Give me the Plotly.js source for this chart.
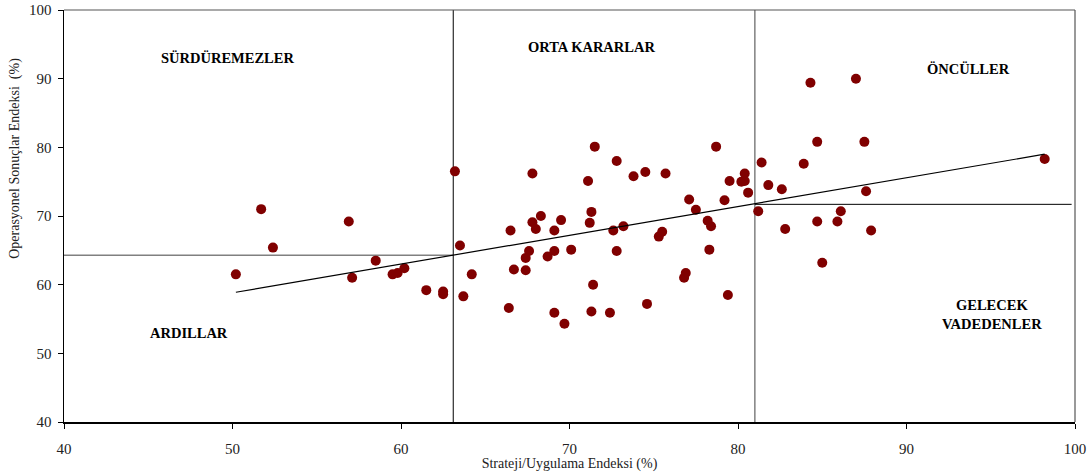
<!DOCTYPE html>
<html>
<head>
<meta charset="utf-8">
<script src="https://cdn.plot.ly/plotly-3.0.1.min.js"></script>
<style>html,body{margin:0;padding:0;background:#fff;}#chart{width:1091px;height:472px;}</style>
</head>
<body>
<div id="chart"></div>
<script>
// Scatter data: Strateji/Uygulama Endeksi (x) vs Operasyonel Sonuçlar Endeksi (y)
var stratejiX = [51.7, 56.9, 52.4, 50.2, 57.1, 58.5, 59.5, 59.8, 60.2, 61.5, 62.5, 62.5, 63.5, 64.2, 63.7,
  63.2, 66.4, 66.5, 66.7, 67.4, 67.4, 67.6, 67.8, 67.8, 68.0, 68.3, 68.7, 69.1, 69.1, 69.1,
  69.5, 69.7, 70.1, 71.1, 71.2, 71.3, 71.3, 71.4, 71.5, 72.4, 72.6, 72.8, 72.8, 73.2, 73.8,
  74.5, 74.6, 75.3, 75.5, 75.7, 76.8, 76.9, 77.1, 77.5, 78.2, 78.4, 78.3, 78.7, 79.4, 79.5,
  79.2, 80.2, 80.4, 80.4, 80.6, 81.2, 81.4, 81.8, 82.6, 82.8, 83.9, 84.3, 84.7, 84.7, 85.0,
  85.9, 86.1, 87.0, 87.5, 87.6, 87.9, 98.2];
var operasyonelY = [71.0, 69.2, 65.4, 61.5, 61.0, 63.5, 61.5, 61.7, 62.4, 59.2, 59.0, 58.6, 65.7, 61.5, 58.3,
  76.5, 56.6, 67.9, 62.2, 63.9, 62.1, 64.9, 76.2, 69.1, 68.1, 70.0, 64.1, 67.9, 64.9, 55.9,
  69.4, 54.3, 65.1, 75.1, 69.0, 70.6, 56.1, 60.0, 80.1, 55.9, 67.9, 78.0, 64.9, 68.5, 75.8,
  76.4, 57.2, 67.0, 67.7, 76.2, 61.0, 61.7, 72.4, 70.9, 69.3, 68.5, 65.1, 80.1, 58.5, 75.1,
  72.3, 75.0, 75.1, 76.2, 73.4, 70.7, 77.8, 74.5, 73.9, 68.1, 77.6, 89.4, 69.2, 80.8, 63.2,
  69.2, 70.7, 90.0, 80.8, 73.6, 67.9, 78.3];

// Trend line endpoints
var trendX = [50.2, 98.2];
var trendY = [58.9, 79.0];

// Quadrant divider lines
var leftHX = [40, 63.1];   var leftHY = [64.3, 64.3];
var leftVX = [63.1, 63.1]; var leftVY = [40, 100];
var rightVX = [81.0, 81.0]; var rightVY = [40, 100];
var rightHX = [81.0, 99.8]; var rightHY = [71.7, 71.7];

// Tick values
var xTicks = [40, 50, 60, 70, 80, 90, 100];
var yTicks = [40, 50, 60, 70, 80, 90, 100];

// Quadrant labels
var quadLabels = ['SÜRDÜREMEZLER', 'ORTA KARARLAR', 'ÖNCÜLLER', 'ARDILLAR', 'GELECEK<br>VADEDENLER'];
var quadX = [49.7, 71.3, 93.7, 47.4, 95.1];
var quadY = [93.0, 94.6, 91.4, 52.9, 55.7];

var serif = '"Liberation Serif", "Times New Roman", serif';

var traces = [
  {x: leftHX, y: leftHY, mode: 'lines', line: {color: '#808080', width: 1.5}, hoverinfo: 'skip'},
  {x: leftVX, y: leftVY, mode: 'lines', line: {color: '#000000', width: 1}, hoverinfo: 'skip'},
  {x: rightVX, y: rightVY, mode: 'lines', line: {color: '#808080', width: 1.5}, hoverinfo: 'skip'},
  {x: rightHX, y: rightHY, mode: 'lines', line: {color: '#000000', width: 1}, hoverinfo: 'skip'},
  {x: stratejiX, y: operasyonelY, mode: 'markers', marker: {color: '#800000', size: 10}},
  {x: trendX, y: trendY, mode: 'lines', line: {color: '#000000', width: 1.2}, hoverinfo: 'skip'}
];

var annotations = quadLabels.map(function (t, i) {
  return {x: quadX[i], y: quadY[i], xref: 'x', yref: 'y', text: '<b>' + t + '</b>', showarrow: false,
    font: {family: serif, size: 14.5, color: '#000'}, align: 'center'};
});
annotations.push({
  xref: 'paper', yref: 'paper', x: -0.048, y: 0.64, xanchor: 'center', yanchor: 'middle',
  text: 'Operasyonel Sonuçlar Endeksi&nbsp;&nbsp;(%)', textangle: -90, showarrow: false,
  font: {family: serif, size: 14, color: '#222'}
});

var layout = {
  width: 1091, height: 472,
  margin: {l: 64, r: 16, t: 10, b: 50},
  paper_bgcolor: '#fff', plot_bgcolor: '#fff',
  showlegend: false,
  font: {family: serif, size: 14, color: '#222'},
  xaxis: {
    range: [40, 100], tickvals: xTicks, ticktext: xTicks.map(String),
    showgrid: false, zeroline: false, showline: true, linecolor: '#000', linewidth: 1.5,
    ticks: 'outside', ticklen: 5, tickcolor: '#000', ticklabelstandoff: 7,
    tickfont: {family: serif, size: 15, color: '#222'},
    title: {text: 'Strateji/Uygulama Endeksi (%)', font: {family: serif, size: 14, color: '#222'}, standoff: 0}
  },
  yaxis: {
    range: [40, 100], tickvals: yTicks, ticktext: yTicks.map(String),
    showgrid: false, zeroline: false, showline: true, linecolor: '#000', linewidth: 1.5,
    ticks: 'outside', ticklen: 5, tickcolor: '#000', ticklabelstandoff: 3,
    tickfont: {family: serif, size: 15, color: '#222'}
  },
  shapes: [
    {type: 'line', xref: 'paper', yref: 'paper', x0: 0, x1: 1, y0: 1, y1: 1, line: {color: '#555', width: 1.2}},
    {type: 'line', xref: 'paper', yref: 'paper', x0: 1, x1: 1, y0: 0, y1: 1, line: {color: '#555', width: 1.2}}
  ],
  annotations: annotations
};

Plotly.newPlot('chart', traces, layout, {displayModeBar: false, staticPlot: true});
</script>
</body>
</html>
